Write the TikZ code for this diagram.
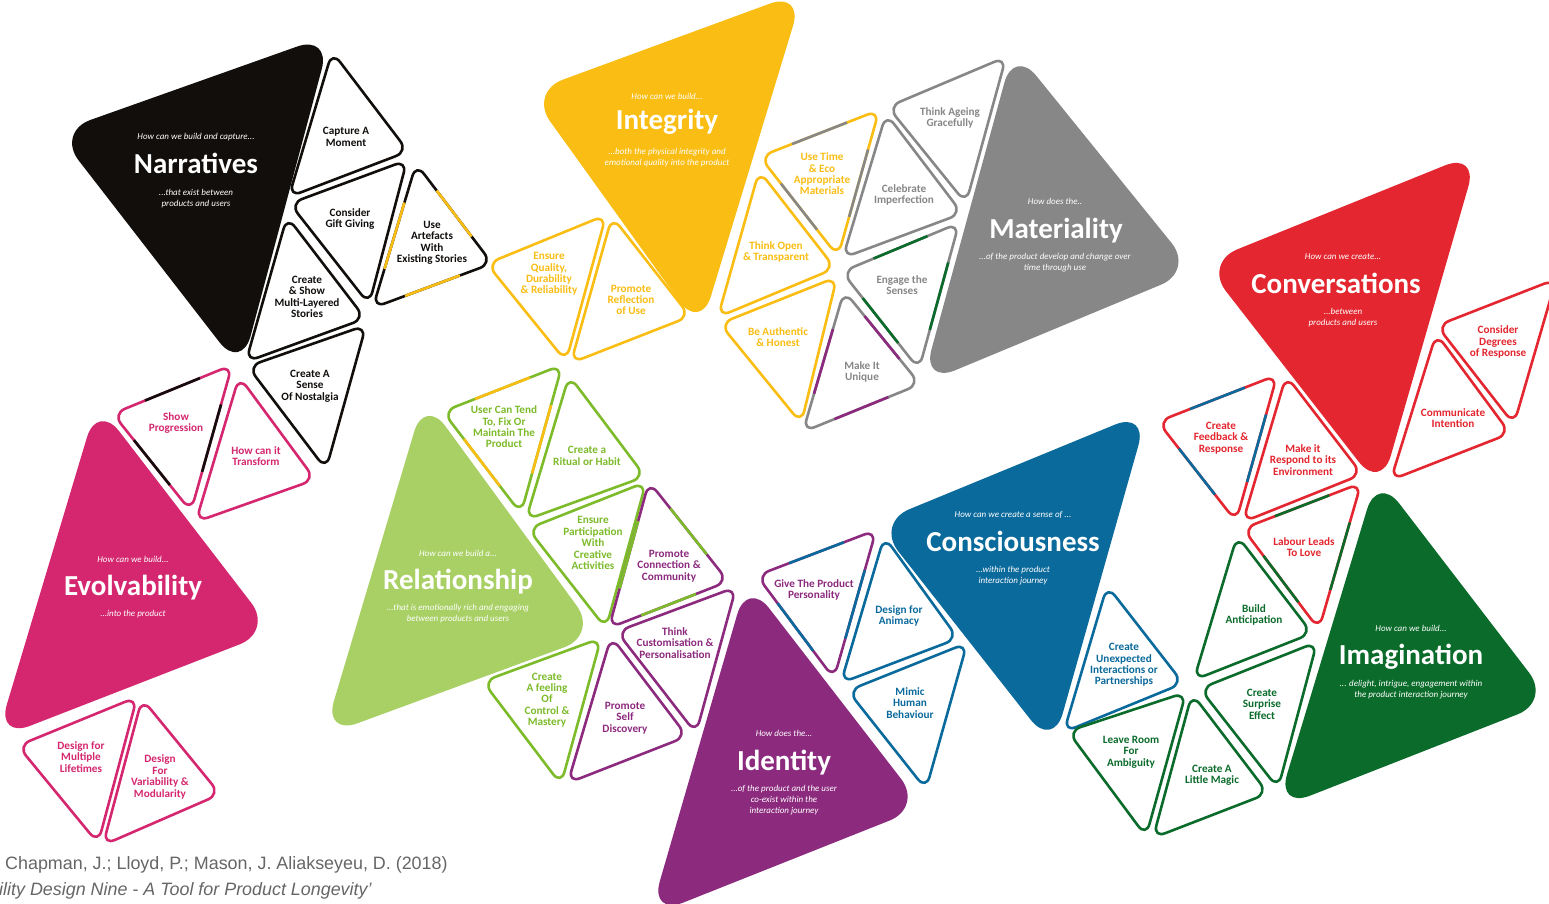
\documentclass[tikz,border=0pt]{standalone}
\usepackage{fontspec}
\setmainfont{Carlito}
\newfontfamily\citefont{Liberation Sans}
\usetikzlibrary{calc}

\definecolor{nblack}{HTML}{110E0C}
\definecolor{nyellow}{HTML}{F9BD13}
\definecolor{ngrey}{HTML}{878787}
\definecolor{npink}{HTML}{D4276F}
\definecolor{nlime}{HTML}{A8D065}
\definecolor{nlimeline}{HTML}{7DBB2B}
\definecolor{npurple}{HTML}{8C2A7E}
\definecolor{nblue}{HTML}{0B6A9C}
\definecolor{nred}{HTML}{E3262F}
\definecolor{ndgreen}{HTML}{0B6B2B}
\definecolor{ncite}{HTML}{666666}

\tikzset{
  bigtri/.style={rounded corners=36pt},
  smalltri/.style={line width=2.6pt, rounded corners=13pt, line join=round},
  twotone/.style={line width=2.6pt},
  smalltxt/.style={font=\bfseries\fontsize{11.2}{11.4}\selectfont, align=center, inner sep=0pt},
  bigq/.style={font=\itshape\fontsize{9}{10}\selectfont, text=white, inner sep=0pt},
  bigt/.style={font=\bfseries\fontsize{29}{31}\selectfont, text=white, inner sep=0pt},
  bigs/.style={font=\itshape\fontsize{9}{11}\selectfont, text=white, align=center, inner sep=0pt},
  citetxt/.style={font=\citefont\fontsize{17.9}{20}\selectfont, text=ncite, inner sep=0pt, anchor=west}
}

\newcommand{\bigtri}[5]{%
  \coordinate (#1-g) at ($0.3333*(#3)+0.3333*(#4)+0.3334*(#5)$);
  \fill[bigtri, #2] ($(#1-g)!1.12!(#3)$) -- ($(#1-g)!1.12!(#4)$) -- ($(#1-g)!1.12!(#5)$) -- cycle;
}

\newcommand{\smalltri}[8][]{%
  \coordinate (#2-g) at ($0.3333*(#4)+0.3333*(#5)+0.3334*(#6)$);
  \coordinate (#2-a) at ($(#2-g)!1.085!(#4)$);
  \coordinate (#2-b) at ($(#2-g)!1.085!(#5)$);
  \coordinate (#2-c) at ($(#2-g)!1.085!(#6)$);
  \draw[smalltri, draw=#3] (#2-a) -- (#2-b) -- (#2-c) -- cycle;
  \ifx\relax#1\relax\else
    \draw[twotone, #1] ($(#2-a)!0.27!(#2-b)$) -- ($(#2-a)!0.73!(#2-b)$);
    \draw[twotone, #1] ($(#2-b)!0.27!(#2-c)$) -- ($(#2-b)!0.73!(#2-c)$);
    \draw[twotone, #1] ($(#2-c)!0.27!(#2-a)$) -- ($(#2-c)!0.73!(#2-a)$);
  \fi
  \node[smalltxt, text=#3] (#2) at (#7) {#8};
}

\begin{document}
\begin{tikzpicture}[x=1pt,y=-1pt]
    \fill[white] (0,0) rectangle (1549,903);
    \useasboundingbox (0,0) rectangle (1549,903);

    \bigtri{nar}{nblack}{73,137}{318,50}{238,350}
    \bigtri{int}{nyellow}{545,97}{790,7}{698,310}
    \bigtri{mat}{ngrey}{1017,68}{935,368}{1178,267}
    \bigtri{evo}{npink}{100,423}{10,723}{257,627}
    \bigtri{rel}{nlime}{427,418}{337,720}{582,630}
    \bigtri{ide}{npurple}{750,600}{663,900}{907,803}
    \bigtri{con}{nblue}{892,527}{1135,427}{1050,728}
    \bigtri{cvs}{nred}{1220,267}{1465,168}{1378,470}
    \bigtri{ima}{ndgreen}{1380,495}{1290,793}{1535,697}

    \node[bigq] (nar-q) at (196,137) {How can we build and capture...};
    \node[bigt] (nar-t) at (196,163) {Narratives};
    \node[bigs] (nar-s) at (196,198.5) {...that exist between\\products and users};

    \node[bigq] (int-q) at (667,96) {How can we build...};
    \node[bigt] (int-t) at (667,122) {Integrity};
    \node[bigs] (int-s) at (667,157.5) {...both the physical integrity and\\emotional quality into the product};

    \node[bigq] (mat-q) at (1055,201) {How does the..};
    \node[bigt] (mat-t) at (1056,231) {Materiality};
    \node[bigs] (mat-s) at (1055,263) {...of the product develop and change over\\time through use};

    \node[bigq] (evo-q) at (133,559) {How can we build...};
    \node[bigt] (evo-t) at (133,588) {Evolvability};
    \node[bigs] (evo-s) at (133,614) {...into the product};

    \node[bigq] (rel-q) at (458,553) {How can we build a...};
    \node[bigt] (rel-t) at (458,582) {Relationship};
    \node[bigs] (rel-s) at (458,613.5) {...that is emotionally rich and engaging\\between products and users};

    \node[bigq] (ide-q) at (784,733) {How does the...};
    \node[bigt] (ide-t) at (784,763) {Identity};
    \node[bigs] (ide-s) at (784,800) {...of the product and the user\\co-exist within the\\interaction journey};

    \node[bigq] (con-q) at (1013,515) {How can we create a sense of ...};
    \node[bigt] (con-t) at (1013,541) {Consciousness};
    \node[bigs] (con-s) at (1013,576) {...within the product\\interaction journey};

    \node[bigq] (cvs-q) at (1343,257) {How can we create...};
    \node[bigt] (cvs-t) at (1336,283) {Conversations};
    \node[bigs] (cvs-s) at (1343,318) {...between\\products and users};

    \node[bigq] (ima-q) at (1411,628) {How can we build...};
    \node[bigt] (ima-t) at (1411,657) {Imagination};
    \node[bigs] (ima-s) at (1411,689.5) {... delight, intrigue, engagement within\\the product interaction journey};

    \smalltri{cam}{nblack}{333,58}{293,192}{403,150}{346,137}{Capture A\\Moment}
    \smalltri{cgg}{nblack}{295,205}{403,165}{368,298}{350,219}{Consider\\Gift Giving}
    \smalltri[nyellow]{uaw}{nblack}{417,170}{377,303}{487,262}{432,243}{Use\\Artefacts\\With\\Existing Stories}
    \smalltri{csm}{nblack}{288,223}{250,357}{360,317}{307,297}{Create\\\& Show\\Multi-Layered\\Stories}
    \smalltri{cas}{nblack}{253,368}{362,330}{325,463}{310,386}{Create A\\Sense\\Of Nostalgia}

    \smalltri[nblack]{shp}{npink}{118,415}{228,370}{190,505}{176,423}{Show\\Progression}
    \smalltri{hct}{npink}{240,383}{200,517}{310,478}{256,456}{How can it\\Transform}
    \smalltri{dml}{npink}{23,747}{133,702}{97,837}{81,757}{Design for\\Multiple\\Lifetimes}
    \smalltri{dfv}{npink}{143,705}{107,840}{215,793}{160,777}{Design\\For\\Variability \&\\Modularity}

    \smalltri{eqd}{nyellow}{492,265}{602,220}{565,355}{549,274}{Ensure\\Quality,\\Durability\\\& Reliability}
    \smalltri{prf}{nyellow}{613,223}{575,358}{685,315}{631,300}{Promote\\Reflection\\of Use}
    \smalltri[ngrey]{ute}{nyellow}{765,158}{875,115}{837,250}{822,174}{Use Time\\\& Eco\\Appropriate\\Materials}
    \smalltri{tot}{nyellow}{760,177}{722,312}{830,267}{776,252}{Think Open\\\& Transparent}
    \smalltri{bah}{nyellow}{725,325}{833,282}{800,417}{778,337}{Be Authentic\\\& Honest}

    \smalltri{tag}{ngrey}{893,108}{1002,62}{965,197}{950,118}{Think Ageing\\Gracefully}
    \smalltri{cim}{ngrey}{887,120}{847,253}{957,212}{904,195}{Celebrate\\Imperfection}
    \smalltri[ndgreen]{ets}{ngrey}{847,273}{955,228}{918,363}{902,285}{Engage the\\Senses}
    \smalltri[npurple]{miu}{ngrey}{845,297}{807,427}{915,383}{862,372}{Make It\\Unique}

    \smalltri[nyellow]{uct}{nlimeline}{448,413}{558,370}{520,507}{504,427}{User Can Tend\\To, Fix Or\\Maintain The\\Product}
    \smalltri{crh}{nlimeline}{570,382}{530,515}{640,475}{587,456}{Create a\\Ritual or Habit}
    \smalltri{epw}{nlimeline}{533,530}{642,487}{605,622}{593,543}{Ensure\\Participation\\With\\Creative\\Activities}
    \smalltri{cfc}{nlimeline}{488,683}{597,643}{560,778}{547,700}{Create\\A feeling\\Of\\Control \&\\Mastery}

    \smalltri[nlimeline]{pcc}{npurple}{650,488}{613,623}{723,580}{669,566}{Promote\\Connection \&\\Community}
    \smalltri{tcp}{npurple}{622,633}{732,592}{695,727}{675,643}{Think\\Customisation \&\\Personalisation}
    \smalltri{psd}{npurple}{612,643}{572,778}{682,735}{625,718}{Promote\\Self\\Discovery}
    \smalltri[nblue]{gtp}{npurple}{762,577}{872,535}{833,672}{814,590}{Give The Product\\Personality}

    \smalltri{dfa}{nblue}{885,543}{845,678}{953,637}{899,616}{Design for\\Animacy}
    \smalltri{mhb}{nblue}{853,692}{963,648}{925,783}{910,703}{Mimic\\Human\\Behaviour}
    \smalltri{cui}{nblue}{1108,592}{1068,727}{1178,682}{1124,665}{Create\\Unexpected\\Interactions or\\Partnerships}

    \smalltri[nblue]{cfr}{nred}{1163,423}{1273,380}{1235,515}{1221,438}{Create\\Feedback \&\\Response}
    \smalltri{mrt}{nred}{1287,382}{1247,517}{1357,473}{1303,460}{Make it\\Respond to its\\Environment}
    \smalltri{cdr}{nred}{1442,327}{1552,284}{1513,418}{1498,342}{Consider\\Degrees\\of Response}
    \smalltri{cin}{nred}{1437,340}{1395,475}{1505,432}{1453,418}{Communicate\\Intention}
    \smalltri[ndgreen]{lll}{nred}{1248,530}{1357,488}{1318,623}{1304,547}{Labour Leads\\To Love}

    \smalltri{ban}{ndgreen}{1238,542}{1198,675}{1307,632}{1254,615}{Build\\Anticipation}
    \smalltri{cse}{ndgreen}{1205,690}{1313,647}{1277,782}{1262,704}{Create\\Surprise\\Effect}
    \smalltri{lrf}{ndgreen}{1073,733}{1182,697}{1145,830}{1131,752}{Leave Room\\For\\Ambiguity}
    \smalltri{clm}{ndgreen}{1193,700}{1157,833}{1263,792}{1212,775}{Create A\\Little Magic}

    \node[citetxt] (cite1) at (5,865) {Chapman, J.; Lloyd, P.; Mason, J. Aliakseyeu, D. (2018)};
    \node[citetxt, font=\citefont\itshape\fontsize{17.9}{20}\selectfont] (cite2) at (-1,891) {ility Design Nine - A Tool for Product Longevity’};
\end{tikzpicture}
\end{document}
